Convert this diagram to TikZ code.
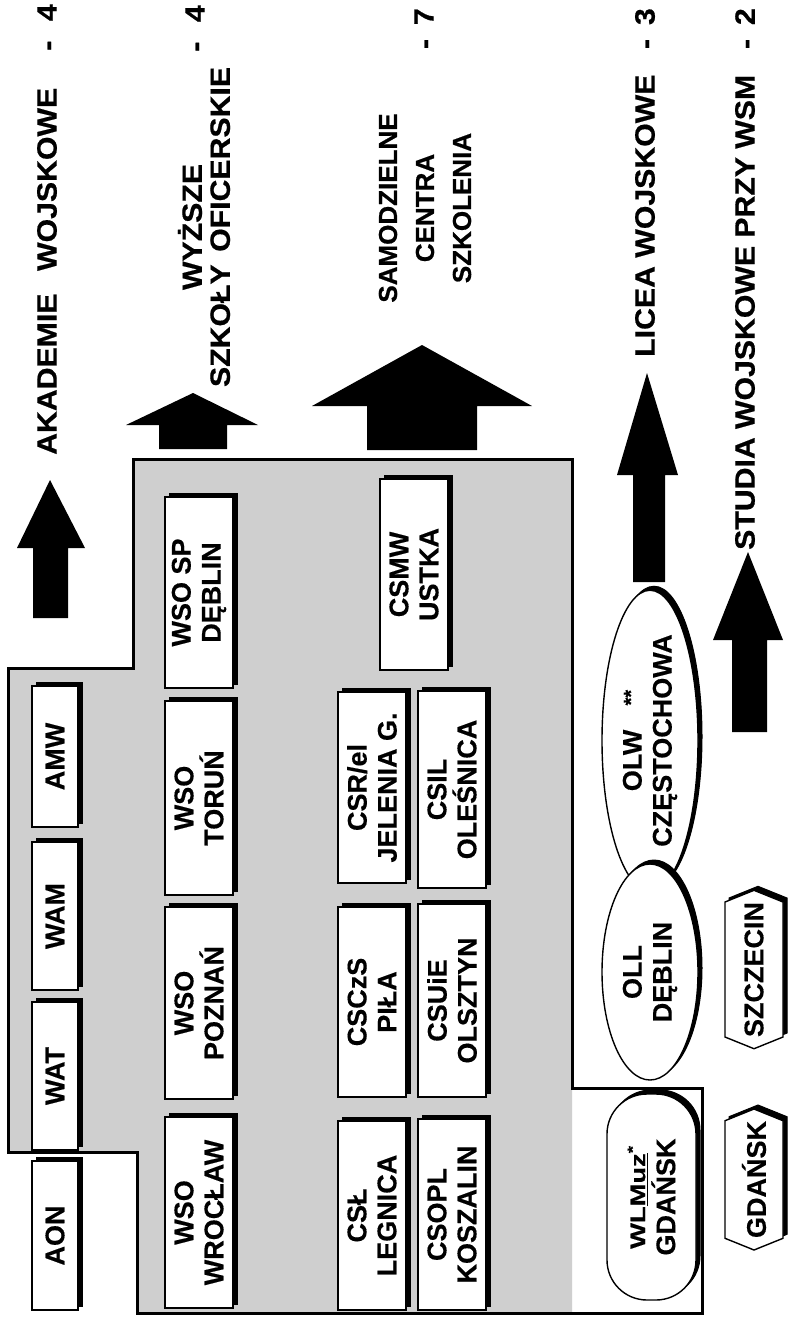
\documentclass[tikz,border=0pt]{standalone}
\usepackage{fontspec}
\setmainfont{Liberation Sans}
\newfontface\hdfont[FakeStretch=1.08, FakeBold=0.6]{Liberation Sans Bold}
\newfontface\sdfont[FakeBold=0.6]{Liberation Sans Bold}
\newfontface\bxfont[FakeBold=0.4]{Liberation Sans Bold}
\usetikzlibrary{shapes.geometric,shapes.symbols}
\tikzset{
  shad/.style={preaction={fill=black, draw=black, line width=1pt, transform canvas={xshift=4pt,yshift=4pt}}},
  bx/.style={shad, draw=black, line width=1.4pt, fill=white, rotate=90, inner sep=0pt, align=center,
    font=\fontsize{27}{30}\selectfont\bxfont},
  hd/.style={rotate=90, inner sep=0pt, font=\fontsize{28}{28}\selectfont\hdfont},
  blk/.style={fill=black},
  outline/.style={draw=black, line width=3pt, line join=miter},
}
\newcommand\rbx[7][]{%
  \node[bx,#1, minimum width={(#6)-(#4)-4}, minimum height={(#5)-(#3)-4}] (#2)
    at ({((#3)+(#5)-4)/2},{((#4)+(#6)+4)/2}) {#7};}
\begin{document}
\begin{tikzpicture}[x=1pt,y=-1pt]
\fill[white] (0,0) rectangle (788,1317);
\useasboundingbox (0,0) rectangle (788,1317);
% shaded region
\fill[black!19] (8,668) -- (133,668) -- (133,459) -- (572,459) -- (572,1313) -- (137,1313) -- (137,1152) -- (8,1152) -- cycle;
\draw[outline] (8,668) -- (133,668) -- (133,459) -- (572,459) -- (572,1088) -- (702,1088) -- (702,1313) -- (137,1313) -- (137,1152) -- (8,1152) -- cycle;
% arrows
\fill[blk] (50,480) -- (85,548) -- (68,548) -- (68,618) -- (33,618) -- (33,548) -- (17,548) -- cycle;
\fill[blk] (193,393) -- (258,425) -- (227,425) -- (227,449) -- (159,449) -- (159,425) -- (126,425) -- cycle;
\fill[blk] (422,345) -- (532,406) -- (477,406) -- (477,450) -- (367,450) -- (367,406) -- (312,406) -- cycle;
\fill[blk] (647,373) -- (678,475) -- (665,475) -- (665,582) -- (633,582) -- (633,475) -- (617,475) -- cycle;
\fill[blk] (748,552) -- (783,640) -- (767,640) -- (767,732) -- (732,732) -- (732,640) -- (713,640) -- cycle;
% headings
\node[hd, anchor=west] (hA) at (47,455) {\makebox[367pt]{AKADEMIE\hfill WOJSKOWE}};
\node[hd, anchor=east] (nA) at (47,4) {-\hspace{0.7em}4};
\node[hd, align=center] (hW) at (204,227) {WYŻSZE\\\makebox[320pt]{SZKOŁY\hfill OFICERSKIE}};
\node[hd, anchor=east] (nW) at (195,5) {-\hspace{0.7em}4};
\node[hd, align=center, font=\fontsize{26}{37}\selectfont\sdfont] (hS) at (425,208) {SAMODZIELNE\\CENTRA\\SZKOLENIA};
\node[hd, anchor=east] (nS) at (424,8) {-\hspace{0.5em}7};
\node[hd, anchor=west] (hL) at (645,357) {LICEA WOJSKOWE};
\node[hd, anchor=east] (nL) at (645,8) {-\hspace{0.5em}3};
\node[hd, anchor=west] (hT) at (745,550) {\makebox[475pt]{STUDIA\hfill WOJSKOWE\hfill PRZY\hfill WSM}};
\node[hd, anchor=east] (nT) at (745,8) {-\hspace{0.5em}2};
% academies
\rbx{aon}{32}{1157}{82}{1310}{AON}
\rbx{wat}{32}{998}{82}{1150}{WAT}
\rbx{wam}{32}{838}{82}{990}{WAM}
\rbx{amw}{32}{682}{82}{827}{AMW}
% officer schools
\rbx{wsow}{165}{1113}{237}{1308}{WSO\\WROCŁAW}
\rbx{wsop}{165}{903}{237}{1099}{WSO\\POZNAŃ}
\rbx{wsot}{165}{697}{237}{895}{WSO\\TORUŃ}
\rbx{wsod}{165}{493}{237}{688}{WSO SP\\DĘBLIN}
% training centres
\rbx{csl}{338}{1117}{410}{1310}{CSŁ\\LEGNICA}
\rbx{cscz}{338}{903}{410}{1097}{CSCzS\\PIŁA}
\rbx{csr}{338}{688}{410}{883}{CSR/el\\JELENIA G.}
\rbx{csopl}{418}{1115}{490}{1310}{CSOPL\\KOSZALIN}
\rbx{csuie}{418}{900}{490}{1097}{CSUiE\\OLSZTYN}
\rbx{csil}{418}{687}{490}{888}{CSIL\\OLEŚNICA}
\rbx{csmw}{380}{475}{452}{670}{CSMW\\USTKA}
% lycea
\rbx[shape=ellipse]{olw}{602}{625}{702}{852}{OLW\hspace{0.9em}\raisebox{4pt}{\fontsize{20}{20}\selectfont **}\\CZĘSTOCHOWA}
\rbx[shape=ellipse]{oll}{602}{860}{702}{1080}{OLL\\DĘBLIN}
\rbx[rounded corners=40pt]{wlmuz}{607}{1090}{700}{1300}{\scalebox{1.3}[1]{\fontsize{21}{21}\selectfont WL\underline{Muz}\textsuperscript{*}}\\GDAŃSK}
% studies
\rbx[shape=signal, signal to=east and west, signal pointer angle=136]{szc}{725}{888}{787}{1047}{SZCZECIN}
\rbx[shape=signal, signal to=east and west, signal pointer angle=136]{gda}{725}{1105}{787}{1250}{GDAŃSK}
\end{tikzpicture}
\end{document}
